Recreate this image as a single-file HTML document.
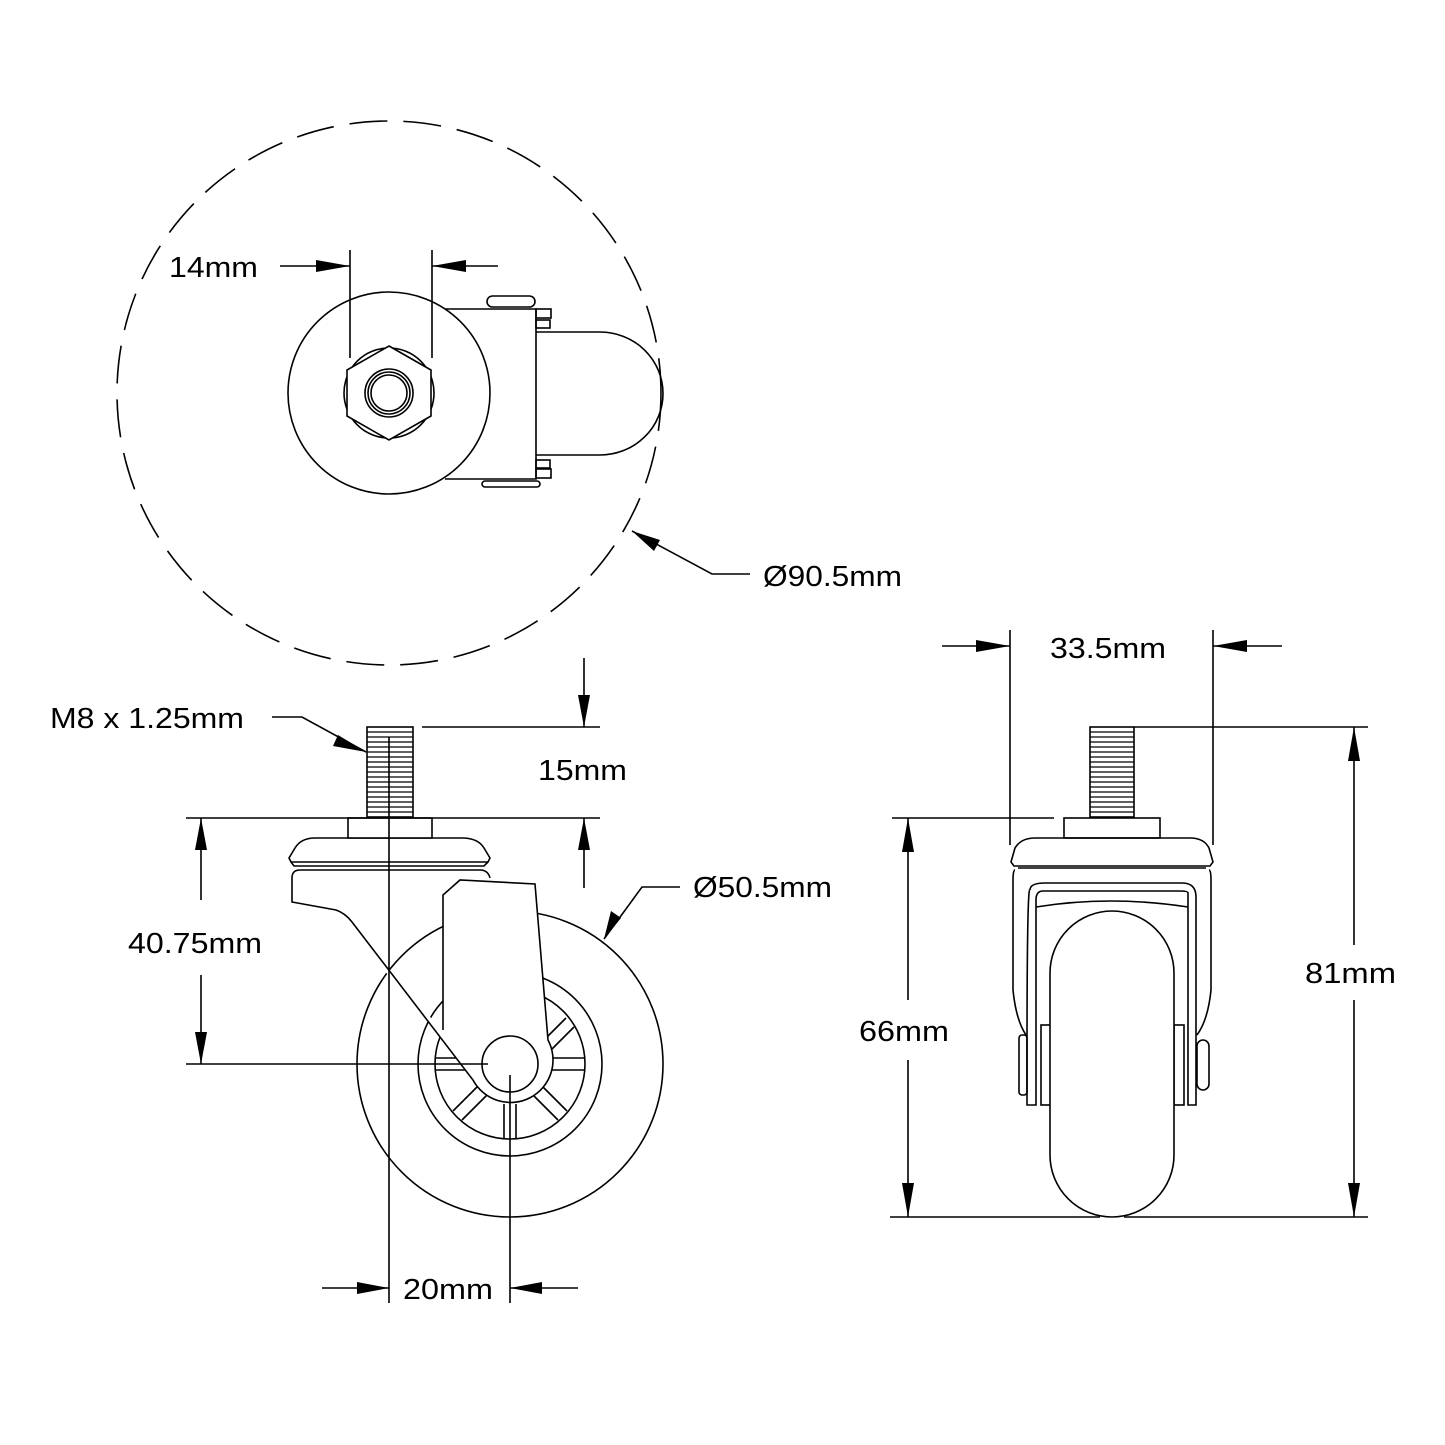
<!DOCTYPE html>
<html><head><meta charset="utf-8"><style>
html,body{margin:0;padding:0;background:#fff}
svg{display:block}
text{font-family:"Liberation Sans",sans-serif;font-size:29px;fill:#000}
</style></head><body>
<svg width="1445" height="1445" viewBox="0 0 1445 1445" xmlns="http://www.w3.org/2000/svg">
<rect width="1445" height="1445" fill="#fff"/>
<g fill="none" stroke="#000" stroke-width="1.6">
<circle cx="389" cy="393" r="272" stroke-dasharray="38,16"/>
<path d="M445 309 H536 V479 H445"/>
<path d="M536 332 H600 A63 61.5 0 0 1 600 455 H536"/>
<rect x="487" y="296" width="48" height="11" rx="5.5"/>
<rect x="482" y="481" width="58" height="6" rx="3"/>
<rect x="536" y="309" width="15" height="9"/><rect x="536" y="320" width="14" height="8"/>
<rect x="536" y="460" width="14" height="8"/><rect x="536" y="469" width="15" height="9"/>
<circle cx="389" cy="393" r="101" fill="#fff"/>
<circle cx="389" cy="393" r="45"/>
<polygon points="389,346 431,370 431,416 389,440 347,416 347,370" fill="#fff"/>
<circle cx="389" cy="393" r="24"/><circle cx="389" cy="393" r="21"/><circle cx="389" cy="393" r="18"/>
<circle cx="510" cy="1064" r="153"/>
<circle cx="510" cy="1064" r="92"/>
<circle cx="510" cy="1064" r="75"/>
<g>
<path d="M550 1058 H585 M550 1070 H585"/>
<path d="M435 1058 H470 M435 1070 H470"/>
<path d="M504 1104 V1139 M516 1104 V1139"/>
<path d="M533 1095 L558 1120 M542 1086 L567 1111"/>
<path d="M487 1095 L462 1120 M478 1086 L453 1111"/>
<path d="M540 1044 L566 1018 M548 1053 L574 1027"/>
</g>
<path d="M292 878 Q292 870 300 870 H480 Q488 870 490 878" />
<path d="M292 878 V902 L336 910 Q345 913 352 922 L473 1080 A38 38 0 0 0 548 1040 L535 884 L460 880 L443 895 V1030" fill="#fff"/>
<circle cx="510" cy="1064" r="28" fill="#fff"/>
<path d="M315 838 H462 Q478 838 484 848 L490 858 L488 862 H291 L289 858 L295 848 Q301 838 315 838 Z" fill="#fff"/>
<path d="M291 862 L294 866 H484 L488 862"/>
<rect x="348" y="818" width="84" height="20" fill="#fff"/>
<rect x="367" y="727" width="46" height="90" fill="#fff"/>
<g stroke-width="1.2">
<path d="M367 732 H413 M367 737 H413 M367 742 H413 M367 747 H413 M367 752 H413 M367 757 H413 M367 762 H413 M367 767 H413 M367 772 H413 M367 777 H413 M367 782 H413 M367 787 H413 M367 792 H413 M367 797 H413 M367 802 H413 M367 807 H413 M367 812 H413"/>
</g>
<rect x="1090" y="727" width="44" height="90" fill="#fff"/>
<g stroke-width="1.2">
<path d="M1090 732 H1134 M1090 737 H1134 M1090 742 H1134 M1090 747 H1134 M1090 752 H1134 M1090 757 H1134 M1090 762 H1134 M1090 767 H1134 M1090 772 H1134 M1090 777 H1134 M1090 782 H1134 M1090 787 H1134 M1090 792 H1134 M1090 797 H1134 M1090 802 H1134 M1090 807 H1134 M1090 812 H1134"/>
</g>
<rect x="1064" y="818" width="96" height="20"/>
<path d="M1035 838 H1190 Q1204 838 1209 848 L1213 862 L1210 866 H1014 L1011 862 L1015 848 Q1021 838 1035 838 Z"/>
<path d="M1015 870 Q1013 870 1013 880 V990 Q1016 1020 1026 1035 M1209 870 Q1211 870 1211 880 V990 Q1208 1020 1197 1035 M1018 868 H1206"/>
<path d="M1027 1105 V1060 Q1027 883 1030 890 Q1030 883 1045 883 H1182 Q1196 883 1196 897 V1105 H1188 V893 Q1188 891 1180 891 H1043 Q1036 891 1036 900 V1105 Z"/>
<path d="M1036 907 Q1110 895 1188 907"/>
<rect x="1041" y="1025" width="10" height="80"/><rect x="1174" y="1025" width="10" height="80"/>
<rect x="1019" y="1035" width="8" height="60" rx="3"/><rect x="1197" y="1040" width="12" height="50" rx="6"/>
<path d="M1050 973 A62 62 0 0 1 1174 973 V1155 A62 62 0 0 1 1050 1155 Z" fill="#fff"/>
<path d="M890 1217 H1100 M1124 1217 H1368"/>
<path d="M350 250 V358 M432 250 V358 M280 266 H350 M432 266 H498"/>
<path d="M632 531 L712 574 H750"/>
<path d="M272 717 H302 L366 752"/>
<path d="M422 727 H600 M584 658 V727 M186 818 H600 M584 818 V888"/>
<path d="M201 818 V900 M201 975 V1064 M186 1064 H488"/>
<path d="M604 939 L642 887 H680"/>
<path d="M389 737 V1303 M510 1075 V1303 M322 1288 H389 M510 1288 H578"/>
<path d="M1010 630 V845 M1213 630 V845 M942 646 H1010 M1213 646 H1282"/>
<path d="M1134 727 H1368 M1354 727 V945 M1354 1000 V1217"/>
<path d="M892 818 H1054 M908 818 V1000 M908 1060 V1217"/>
</g>
<g fill="#000">
<polygon points="350,266 316,260 316,272"/><polygon points="432,266 466,260 466,272"/>
<polygon points="632,531 660,540 654,551"/>
<polygon points="366,752 338,735 333,746"/>
<polygon points="584,727 578,695 590,695"/><polygon points="584,818 578,850 590,850"/>
<polygon points="201,818 195,850 207,850"/><polygon points="201,1064 195,1032 207,1032"/>
<polygon points="604,939 611,911 621,918"/>
<polygon points="389,1288 357,1282 357,1294"/><polygon points="510,1288 542,1282 542,1294"/>
<polygon points="1010,646 976,640 976,652"/><polygon points="1213,646 1247,640 1247,652"/>
<polygon points="1354,727 1348,761 1360,761"/><polygon points="1354,1217 1348,1183 1360,1183"/>
<polygon points="908,818 902,852 914,852"/><polygon points="908,1217 902,1183 914,1183"/>
</g>
<text x="169" y="277" textLength="89" lengthAdjust="spacingAndGlyphs">14mm</text>
<text x="763" y="586" textLength="139" lengthAdjust="spacingAndGlyphs">Ø90.5mm</text>
<text x="50" y="728" textLength="194" lengthAdjust="spacingAndGlyphs">M8 x 1.25mm</text>
<text x="538" y="780" textLength="89" lengthAdjust="spacingAndGlyphs">15mm</text>
<text x="693" y="897" textLength="139" lengthAdjust="spacingAndGlyphs">Ø50.5mm</text>
<text x="128" y="953" textLength="134" lengthAdjust="spacingAndGlyphs">40.75mm</text>
<text x="403" y="1299" textLength="90" lengthAdjust="spacingAndGlyphs">20mm</text>
<text x="1050" y="658" textLength="116" lengthAdjust="spacingAndGlyphs">33.5mm</text>
<text x="1305" y="983" textLength="91" lengthAdjust="spacingAndGlyphs">81mm</text>
<text x="859" y="1041" textLength="90" lengthAdjust="spacingAndGlyphs">66mm</text>
</svg>
</body></html>
